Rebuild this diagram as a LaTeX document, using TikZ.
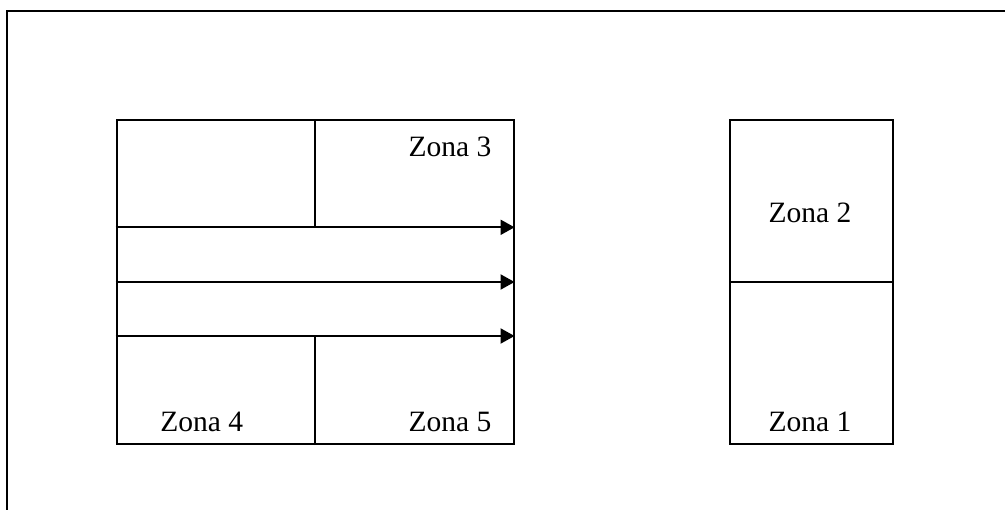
\documentclass[tikz,border=0pt]{standalone}
\usepackage{fontspec}
\setmainfont{Liberation Serif}
\usetikzlibrary{arrows.meta}
\tikzstyle{wall}=[line width=1.1pt]
\tikzstyle{zone}=[draw, rectangle, line width=1.1pt, inner sep=0pt]
\tikzstyle{flow}=[line width=1.1pt, -{Triangle[length=0.28cm,width=0.3cm]}]
\tikzstyle{zonetxt}=[font=\fontsize{16.8}{18}\selectfont, inner sep=0pt, anchor=base]

\begin{document}
\begin{tikzpicture}[x=0.02cm,y=-0.02cm]
  \clip (0,0) rectangle (1005,510);
  % outer frame
  \draw[wall] (7,11) rectangle (1030,535);
  % left block with the lanes
  \node[zone, minimum width=7.94cm, minimum height=6.48cm, anchor=north west] (hall) at (115.7,119.3) {};
  \coordinate (lane1) at (115.7,227.3);
  \coordinate (lane2) at (115.7,282);
  \coordinate (lane3) at (115.7,336);
  \draw[wall] (hall.north) -- (hall.north |- lane1);
  \draw[wall] (hall.south) -- (hall.south |- lane3);
  \draw[flow] (lane1) -- (lane1 -| hall.east);
  \draw[flow] (lane2) -- (lane2 -| hall.east);
  \draw[flow] (lane3) -- (lane3 -| hall.east);
  % right block
  \node[zone, minimum width=3.254cm, minimum height=6.48cm, anchor=north west] (store) at (729,119.3) {};
  \draw[wall] (store.west) -- (store.east);
  % labels
  \node[zonetxt] (z1) at (810,431.7) {Zona 1};
  \node[zonetxt] (z2) at (810,222.3) {Zona 2};
  \node[zonetxt] (z3) at (450,156.7) {Zona 3};
  \node[zonetxt] (z4) at (201.7,431.7) {Zona 4};
  \node[zonetxt] (z5) at (450,431.7) {Zona 5};
\end{tikzpicture}
\end{document}
